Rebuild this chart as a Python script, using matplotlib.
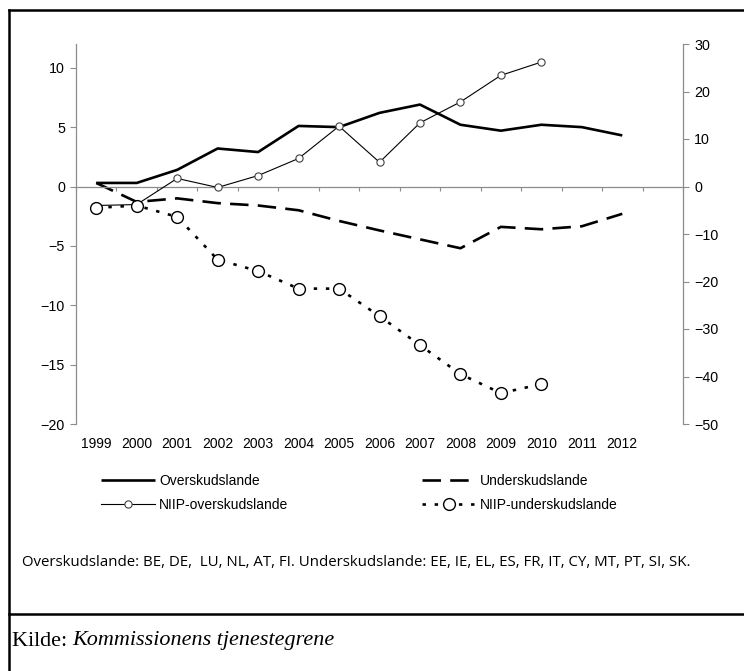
import matplotlib.pyplot as plt
import matplotlib.transforms as mtransforms
from matplotlib.lines import Line2D
import numpy as np

# Years on the category axis (one empty slot follows 2012)
years = ['1999', '2000', '2001', '2002', '2003', '2004', '2005',
         '2006', '2007', '2008', '2009', '2010', '2011', '2012']

# Current account, % of GDP (left axis)
overskud = [0.3, 0.3, 1.4, 3.2, 2.9, 5.1, 5.0, 6.2, 6.9, 5.2, 4.7, 5.2, 5.0, 4.3]
underskud = [0.3, -1.3, -1.0, -1.4, -1.6, -2.0, -2.9, -3.7, -4.45, -5.2, -3.4, -3.6, -3.35, -2.3]

# Net international investment position, % of GDP (right axis)
niip_over = [-4.0, -3.8, 1.7, -0.2, 2.3, 5.9, 12.7, 5.1, 13.4, 17.8, 23.4, 26.2]
niip_under = [-4.5, -4.0, -6.4, -15.4, -17.8, -21.5, -21.5, -27.3, -33.4, -39.5, -43.5, -41.6]

left_ticks = [10, 5, 0, -5, -10, -15, -20]
right_ticks = [30, 20, 10, 0, -10, -20, -30, -40, -50]

note = ('Overskudslande: BE, DE,  LU, NL, AT, FI. '
        'Underskudslande: EE, IE, EL, ES, FR, IT, CY, MT, PT, SI, SK.')
source_lead = 'Kilde: '
source_name = 'Kommissionens tjenestegrene'

GRAY = '#8c8c8c'
plt.rcParams['font.family'] = ['Liberation Sans', 'DejaVu Sans']


def fmt(v):
    # tick labels use a real minus sign, like the original
    return str(v).replace('-', '\u2212')


W, H = 744, 671
fig = plt.figure(figsize=(W / 100, H / 100), dpi=100)
ax = fig.add_axes([76 / W, 1 - 424 / H, (683 - 76) / W, (424 - 44) / H])
ax2 = ax.twinx()

x = np.arange(len(years))
x_niip = np.arange(len(niip_over))

# current account series on the left axis
l1, = ax.plot(x, overskud, color='black', lw=1.9, solid_capstyle='butt',
              label='Overskudslande')
l2, = ax.plot(x, underskud, color='black', lw=1.9, dashes=(7, 3.5),
              label='Underskudslande')

# NIIP series on the right axis
l3, = ax2.plot(x_niip, niip_over, color='black', lw=0.8, marker='o', ms=5.2,
               mfc='white', mec='#404040', mew=0.8, label='NIIP-overskudslande')
l4, = ax2.plot(x_niip, niip_under, color='black', lw=1.9, dashes=(1.3, 3.3),
               marker='o', ms=8.5, mfc='white', mec='black', mew=1.0,
               label='NIIP-underskudslande')

ax.set_xlim(-0.5, 14.5)
ax.set_ylim(-20, 12)
ax2.set_ylim(-50, 30)

# left axis
for s in ['top', 'right']:
    ax.spines[s].set_visible(False)
ax.spines['left'].set_color(GRAY)
ax.spines['left'].set_linewidth(0.9)
ax.spines['bottom'].set_position(('data', 0))
ax.spines['bottom'].set_color(GRAY)
ax.spines['bottom'].set_linewidth(0.9)
ax.set_yticks(left_ticks)
ax.set_yticklabels([fmt(v) for v in left_ticks])
ax.tick_params(axis='y', length=4, width=0.8, color=GRAY, pad=4,
               labelsize=10.3)
ax.set_xticks(np.arange(-0.5, 15, 1.0))
ax.set_xticklabels([])
ax.tick_params(axis='x', direction='out', length=3, width=0.8, color=GRAY)

# right axis
for s in ['top', 'left', 'bottom']:
    ax2.spines[s].set_visible(False)
ax2.spines['right'].set_color(GRAY)
ax2.spines['right'].set_linewidth(0.9)
ax2.set_yticks(right_ticks)
ax2.set_yticklabels([fmt(v) for v in right_ticks])
ax2.tick_params(axis='y', length=4, width=0.8, color=GRAY, pad=4,
                labelsize=10.3)

# year labels sit below the plot, not on the zero line
trans = mtransforms.blended_transform_factory(ax.transData, ax.transAxes)
for i, yr in enumerate(years):
    ax.text(i, -0.053, yr, transform=trans, ha='center', va='center',
            fontsize=10)

# legend
fig.legend([l1, l3, l2, l4],
           [l.get_label() for l in [l1, l3, l2, l4]],
           ncol=2, loc='upper left', bbox_to_anchor=(101 / W, 1 - 474 / H),
           frameon=False, fontsize=10, borderpad=0, borderaxespad=0,
           handlelength=3.9, handletextpad=0.3, labelspacing=0.72,
           columnspacing=9.6)

# footnote and source
fig.text(22 / W, 1 - 563 / H, note, fontsize=10.8, family='Open Sans',
         ha='left', va='center')
t = fig.text(12 / W, 1 - 641 / H, source_lead, fontsize=15.9,
             family='Liberation Serif', ha='left', va='center')
fig.canvas.draw()
bb = t.get_window_extent()
fig.text(bb.x1 / W, 1 - 641 / H, source_name, fontsize=15.9,
         family='Liberation Serif', style='italic', ha='left', va='center')

# box lines around the chart
border = dict(color='black', lw=1.8, transform=fig.transFigure)
fig.add_artist(Line2D([9 / W, 9 / W], [0, 1 - 10 / H], **border))
fig.add_artist(Line2D([9 / W, 1], [1 - 10 / H, 1 - 10 / H], **border))
fig.add_artist(Line2D([9 / W, 1], [1 - 614 / H, 1 - 614 / H], **border))

fig.savefig('out.png', dpi=100)
